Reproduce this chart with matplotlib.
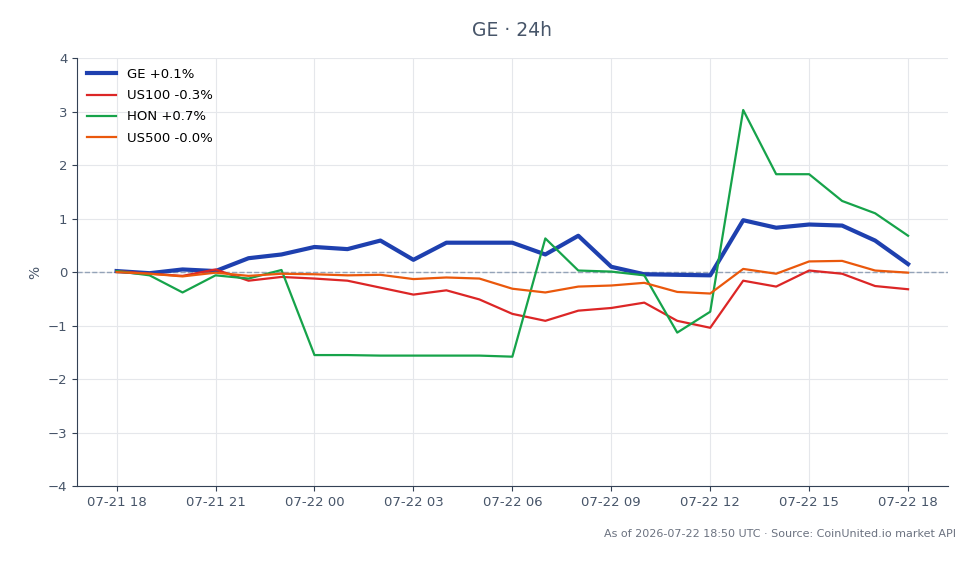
import numpy as np
import pandas as pd
import matplotlib
matplotlib.use("Agg")
import matplotlib.pyplot as plt
import matplotlib.dates as mdates

times = pd.date_range("2026-07-21 18:00", "2026-07-22 18:00", freq="h")

ge = [0.02, -0.02, 0.05, 0.02, 0.26, 0.33, 0.47, 0.43, 0.59, 0.23, 0.55, 0.55, 0.55,
      0.33, 0.68, 0.10, -0.04, -0.05, -0.06, 0.97, 0.83, 0.89, 0.87, 0.59, 0.15]
us100 = [0.02, -0.03, -0.07, 0.05, -0.16, -0.09, -0.12, -0.16, -0.29, -0.42, -0.34, -0.51, -0.78,
         -0.91, -0.72, -0.67, -0.57, -0.91, -1.04, -0.16, -0.27, 0.03, -0.03, -0.26, -0.32]
hon = [0.02, -0.06, -0.38, -0.06, -0.12, 0.04, -1.55, -1.55, -1.56, -1.56, -1.56, -1.56, -1.58,
       0.63, 0.03, 0.01, -0.06, -1.13, -0.74, 3.03, 1.83, 1.83, 1.33, 1.10, 0.68]
us500 = [0.00, -0.03, -0.08, -0.01, -0.07, -0.03, -0.04, -0.06, -0.05, -0.13, -0.10, -0.12, -0.31,
         -0.38, -0.27, -0.25, -0.20, -0.37, -0.40, 0.06, -0.03, 0.20, 0.21, 0.03, -0.01]

series = [
    ("GE +0.1%", ge, "#1e40af", 3.0),
    ("US100 -0.3%", us100, "#dc2626", 1.6),
    ("HON +0.7%", hon, "#16a34a", 1.6),
    ("US500 -0.0%", us500, "#ea580c", 1.6),
]

plt.rcParams["font.family"] = ["DejaVu Sans"]
fig = plt.figure(figsize=(9.8, 5.64), dpi=100)
ax = fig.add_axes([0.0786, 0.138, 0.8884, 0.759])

for label, vals, color, lw in series:
    ax.plot(times, vals, color=color, lw=lw, label=label, zorder=3)

ax.axhline(0, color="#94a3b8", lw=1, ls="--", zorder=2)

ax.set_ylim(-4, 4)
ax.set_yticks(range(-4, 5))
ax.xaxis.set_major_locator(mdates.HourLocator(byhour=range(0, 24, 3)))
ax.xaxis.set_major_formatter(mdates.DateFormatter("%m-%d %H"))
ax.margins(x=0.05)

ax.grid(True, color="#e5e7eb", lw=0.8)
ax.set_axisbelow(True)
for s in ["top", "right"]:
    ax.spines[s].set_visible(False)
for s in ["left", "bottom"]:
    ax.spines[s].set_color("#334155")
ax.tick_params(colors="#334155", labelsize=9.5, labelcolor="#475569")

ax.set_ylabel("%", color="#475569", fontsize=10)
ax.set_title("GE · 24h", color="#475569", fontsize=13.5, pad=16)

ax.legend(loc="upper left", frameon=False, fontsize=9.5, handlelength=2.2,
          labelspacing=0.62, borderaxespad=0.35)

fig.text(0.976, 0.045, "As of 2026-07-22 18:50 UTC · Source: CoinUnited.io market API",
         ha="right", va="bottom", fontsize=8, color="#6b7280")

fig.savefig("out.png", dpi=100)
